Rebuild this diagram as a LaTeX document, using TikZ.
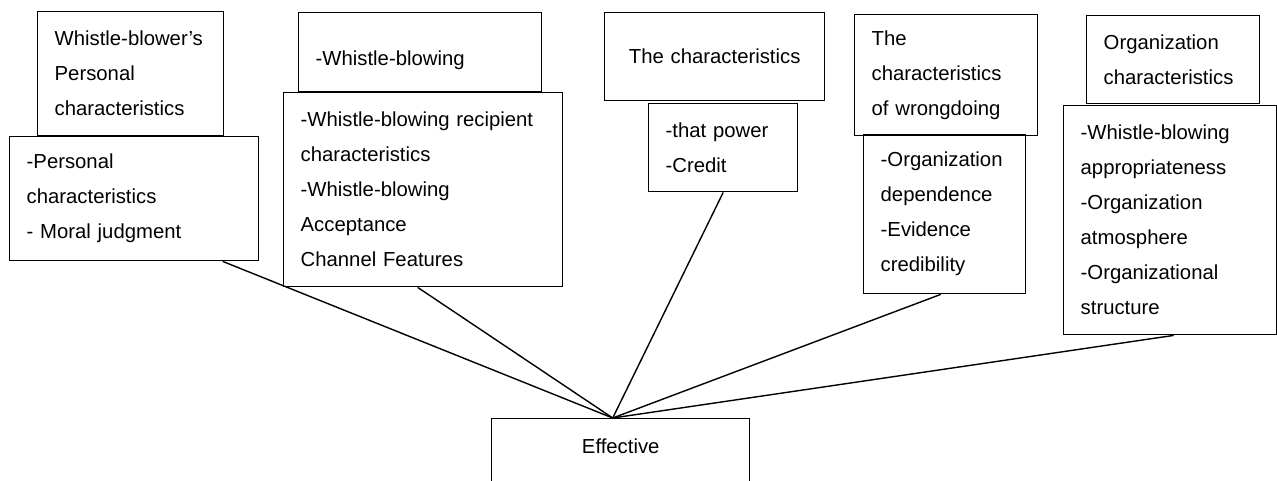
\documentclass[tikz,border=0pt]{standalone}
\usepackage{fontspec}
\setmainfont{Liberation Sans}
\usepackage{tikz}
\usetikzlibrary{positioning}

\begin{document}
\begin{tikzpicture}[
        x=1pt, y=-1pt,
        every node/.style={font=\fontsize{20.3}{35}\selectfont, inner ysep=0pt, inner xsep=17pt},
        box/.style={draw, line width=1.4pt, anchor=north west, align=left},
        link/.style={line width=1.4pt}
    ]
      \useasboundingbox (0,0) rectangle (1277,480);

      % header boxes
      \node[box, text width=152, minimum height=124] (h1) at (37,11) {Whistle-blower's\\Personal\\characteristics};
      \node[box, text width=209, minimum height=79, text height=26pt, text depth=0pt] (h2) at (298,12) {-Whistle-blowing};
      \node[box, text width=186, minimum height=88, align=center] (h3) at (604,12) {The characteristics};
      \node[box, text width=149, minimum height=121] (h4) at (854,14) {The\\characteristics\\of wrongdoing};
      \node[box, text width=139, minimum height=88] (h5) at (1086,15) {Organization\\characteristics};

      % detail boxes
      \node[box, text width=215, minimum height=124] (d1) at (9,136) {-Personal\\characteristics\\- Moral judgment};
      \node[box, text width=245, minimum height=194] (d2) at (283,92) {-Whistle-blowing recipient\\characteristics\\-Whistle-blowing\\Acceptance\\Channel Features};
      \node[box, text width=115, minimum height=88] (d3) at (648,103) {-that power\\-Credit};
      \node[box, text width=128, minimum height=159] (d4) at (863,134) {-Organization\\dependence\\-Evidence\\credibility};
      \node[box, text width=179, minimum height=229] (d5) at (1063,105) {-Whistle-blowing\\appropriateness\\-Organization\\atmosphere\\-Organizational\\structure};

      \node[box, text width=224, minimum height=66, text depth=12pt, align=center] (eff) at (491,418) {Effective};
      \coordinate (hub) at ([xshift=-8pt]eff.north);

      \draw [link] ([xshift=88.5pt]d1.south) -- (hub);
      \draw [link] ([xshift=-5.5pt]d2.south) -- (hub);
      \draw [link] (d3.south) -- (hub);
      \draw [link] ([xshift=-4pt]d4.south) -- (hub);
      \draw [link] ([xshift=3.5pt]d5.south) -- (hub);
    \end{tikzpicture}
\end{document}
